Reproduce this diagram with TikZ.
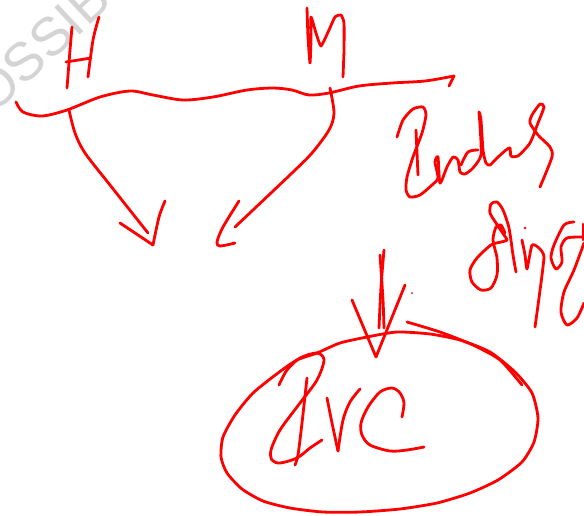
\documentclass[tikz,border=0pt]{standalone}
\usepackage{fontspec}
\setmainfont{Liberation Sans}
\definecolor{inkred}{RGB}{255, 0, 0}
\definecolor{markgray}{RGB}{212, 212, 212}
\usetikzlibrary{calc}
\begin{document}
\begin{tikzpicture}[x=1pt, y=-1pt, inkline/.style={draw=inkred, line width=2.8pt, line cap=round, line join=round, tension=0.5}, every node/.style={font=\small}]
    \useasboundingbox (0,0) rectangle (584,515);
    \begin{scope}
    \clip (0,0) rectangle (584,515);
    \node [text=markgray, rotate=43, font=\fontsize{54}{54}\selectfont, anchor=base west, inner sep=0pt] (mark) at (-7,116) {OSSIB};
    \end{scope}

    \draw [inkline] (72,27) -- (70,50) -- (67,88);
    \draw [inkline] plot [smooth] coordinates {(99,17) (93,40) (88,77)};
    \draw [inkline] (66,62) -- (91,58);

    \draw [inkline] plot [smooth] coordinates {(16,102) (23,112) (42,116) (67,110) (100,97) (130,91) (153,95) (183,100) (213,97) (247,90) (273,88) (292,90) (309,95) (329,93) (359,86) (392,83) (425,81) (454,76)};
    \draw [inkline] (454,76) -- (449,86);

    \draw [inkline] plot [smooth] coordinates {(69,110) (75,133) (85,153) (110,185) (148,233)};
    \draw [inkline] (120,223) -- (153,245);
    \draw [inkline] plot [smooth] coordinates {(153,245) (159,217) (165,201)};

    \draw [inkline] plot [smooth] coordinates {(330,88) (334,113) (329,130) (312,153) (292,173) (235,227)};
    \draw [inkline] plot [smooth] coordinates {(239,201) (223,227) (217,242) (220,246) (235,243)};

    \draw [inkline] plot [smooth, tension=0.3] coordinates {(307,8) (308,37) (310,63) (311,40) (311,17) (316,33) (321,46) (329,30) (335,17) (341,15) (344,23) (344,50) (343,77)};

    \draw [inkline] plot [smooth, tension=0.4] coordinates {(397,137) (403,120) (413,109) (423,107) (426,115) (422,133) (413,157) (407,177) (406,190) (410,197) (420,195) (432,185) (438,178) (435,162) (438,157) (440,183) (447,167) (453,157) (458,160) (460,172) (465,174) (473,168) (481,155) (480,125) (479,112) (481,120) (483,150) (486,163) (490,165) (497,158) (506,150) (510,148) (511,156) (518,156) (530,143) (538,123) (544,107) (540,104) (532,115) (530,123) (538,135) (550,147) (552,157) (540,187)};
    \draw [inkline] (416,130) -- (418,175);
    \draw [inkline] plot [smooth] coordinates {(461,165) (468,152) (478,150)};

    \draw [inkline] plot [smooth, tension=0.45] coordinates {(516,272) (513,255) (509,228) (503,210) (497,202) (491,204) (490,213) (496,223) (504,235) (507,240) (501,242) (491,245) (477,258) (470,270) (472,282) (481,290) (491,288) (497,275) (497,258) (493,240) (496,227) (501,225) (505,233)};
    \fill [inkred] (525,228) circle (1.4pt);
    \draw [inkline] plot [smooth, tension=0.3] coordinates {(522,240) (525,255) (527,269) (532,245) (539,248) (544,257) (539,298) (535,327)};
    \draw [inkline] plot [smooth, tension=0.45] coordinates {(574,222) (564,225) (554,245) (551,258) (556,269) (562,262) (561,247) (567,238) (584,237)};
    \draw [inkline] (583,224) -- (583,240);
    \draw [inkline] plot [smooth, tension=0.45] coordinates {(584,243) (574,270) (564,292) (561,312) (567,325) (577,318) (584,303)};

    \draw [inkline] plot [smooth] coordinates {(384,250) (381,287) (379,328)};
    \draw [inkline] plot [smooth] coordinates {(380,255) (383,300) (384,328)};
    \draw [inkline] (352,300) -- (376,357) -- (405,285);
    \fill [inkred] (412,293) circle (1pt);

    \draw [inkline] plot [smooth, tension=0.4] coordinates {(407,322) (440,332) (473,345) (500,360) (522,385)};
    \draw [inkline] plot [smooth cycle, tension=0.4] coordinates {(515,372) (490,352) (460,340) (430,334) (397,332) (367,337) (340,343) (317,353) (297,360) (278,373) (253,393) (235,415) (223,437) (221,457) (227,473) (242,489) (263,501) (290,508) (323,512) (360,512) (400,509) (437,503) (470,493) (498,480) (522,462) (534,442) (538,418) (532,393)};

    \draw [inkline] plot [smooth, tension=0.5] coordinates {(279,385) (287,370) (300,358) (317,353) (324,360) (317,380) (300,403) (280,430) (271,450) (272,460) (280,463) (297,458) (310,448) (322,440)};
    \draw [inkline] plot [smooth] coordinates {(307,378) (302,423) (298,455) (295,465)};
    \draw [inkline] plot [smooth] coordinates {(327,398) (332,423) (338,451)};
    \draw [inkline] plot [smooth] coordinates {(338,451) (343,420) (350,402) (360,389)};
    \draw [inkline] plot [smooth] coordinates {(402,417) (404,403) (400,393) (392,388) (380,392) (368,407) (361,423) (362,435) (370,445) (390,451) (407,450) (424,447)};
\end{tikzpicture}
\end{document}
